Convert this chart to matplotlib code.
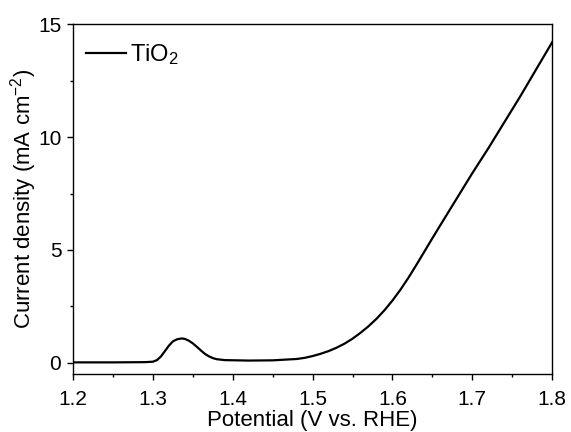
import numpy as np
import matplotlib
matplotlib.use("Agg")
import matplotlib.pyplot as plt
from matplotlib.ticker import MultipleLocator

# LSV curve (V vs. RHE, mA cm^-2)
potential = [1.20, 1.25, 1.29, 1.30, 1.305, 1.31, 1.315, 1.32, 1.325, 1.33, 1.336,
             1.34, 1.345, 1.35, 1.355, 1.36, 1.365, 1.37, 1.375, 1.38, 1.39, 1.42,
             1.45, 1.48, 1.49, 1.50, 1.51, 1.52, 1.53, 1.54, 1.55, 1.56, 1.57,
             1.58, 1.59, 1.60, 1.61, 1.62, 1.63, 1.64, 1.65, 1.66, 1.68, 1.70,
             1.72, 1.74, 1.76, 1.78, 1.80]
current = [0.02, 0.02, 0.03, 0.05, 0.12, 0.28, 0.52, 0.76, 0.95, 1.04, 1.08,
           1.06, 0.98, 0.86, 0.71, 0.55, 0.40, 0.29, 0.21, 0.16, 0.12, 0.10,
           0.11, 0.17, 0.22, 0.30, 0.40, 0.52, 0.67, 0.85, 1.07, 1.33, 1.62,
           1.95, 2.33, 2.76, 3.24, 3.77, 4.34, 4.93, 5.52, 6.10, 7.25, 8.40,
           9.50, 10.65, 11.80, 13.0, 14.2]

plt.rcParams['font.family'] = ['Liberation Sans', 'DejaVu Sans']
plt.rcParams['mathtext.fontset'] = 'custom'
plt.rcParams['mathtext.rm'] = 'Liberation Sans'
plt.rcParams['mathtext.it'] = 'Liberation Sans:italic'

fig = plt.figure(figsize=(5.71, 4.32), dpi=100)
ax = fig.add_axes([0.128, 0.134, 0.839, 0.81])

ax.plot(potential, current, color='black', lw=1.6, label='TiO$_2$')

ax.set_xlim(1.2, 1.8)
ax.set_ylim(-0.5, 15)
ax.xaxis.set_major_locator(MultipleLocator(0.1))
ax.xaxis.set_minor_locator(MultipleLocator(0.05))
ax.yaxis.set_major_locator(MultipleLocator(5))
ax.yaxis.set_minor_locator(MultipleLocator(2.5))
ax.tick_params(which='both', direction='out', top=False, right=False, labelsize=15, width=1)
ax.tick_params(which='major', length=4.5)
ax.tick_params(which='minor', length=2.5)
ax.tick_params(axis='x', pad=7)
ax.tick_params(axis='y', pad=4)
for s in ax.spines.values():
    s.set_linewidth(1)

ax.set_xlabel('Potential (V vs. RHE)', fontsize=16, labelpad=1)
ax.set_ylabel('Current density (mA cm$^{-2}$)', fontsize=16, labelpad=-1)

ax.legend(loc='upper left', bbox_to_anchor=(-0.002, 0.99), frameon=False,
          fontsize=17, handlelength=1.7, handletextpad=0.15, borderaxespad=0.2)

fig.savefig('out.png', dpi=100)
